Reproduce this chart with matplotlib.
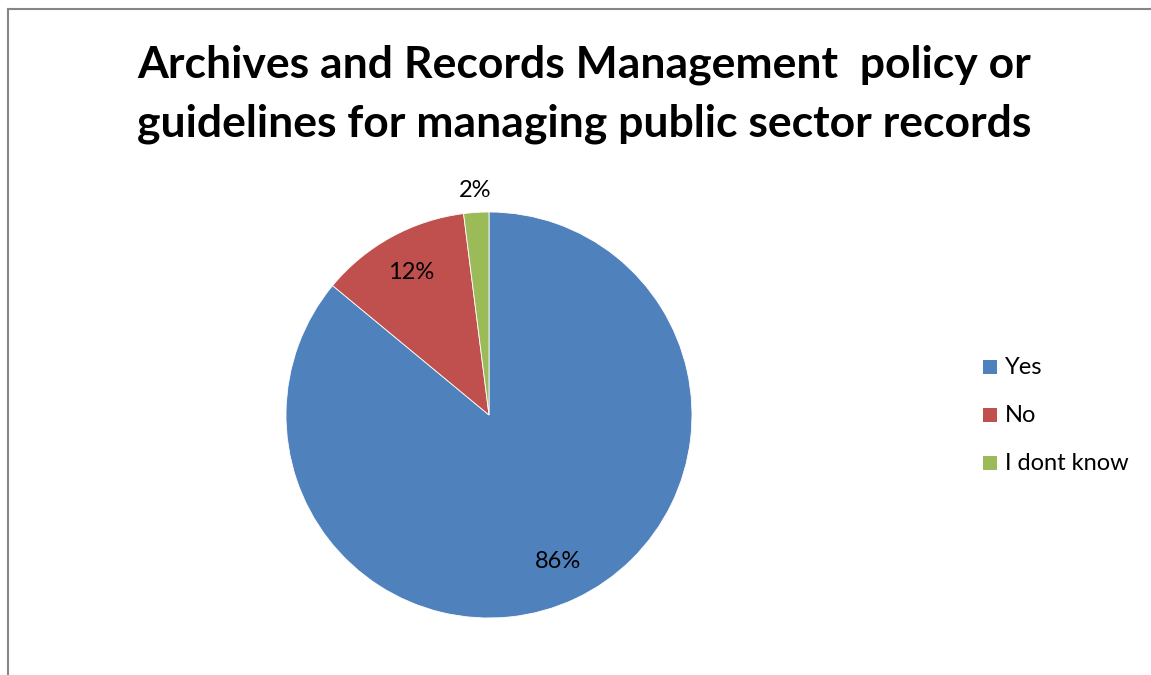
import matplotlib
matplotlib.use("Agg")
import matplotlib.pyplot as plt
from matplotlib.lines import Line2D
from matplotlib.patches import Rectangle
import numpy as np

categories = ["Yes", "No", "I dont know"]
values = [86, 12, 2]
colors = ["#4F81BD", "#C0504D", "#9BBB59"]
title = "Archives and Records Management  policy or\nguidelines for managing public sector records"

W, H = 1151, 675
fig = plt.figure(figsize=(W / 100, H / 100), dpi=100)
fig.patch.set_facecolor("white")

# frame lines (left and top)
fig.add_artist(Line2D([8 / W, 8 / W], [0, 1 - 9 / H], color="#868686", lw=1.5))
fig.add_artist(Line2D([8 / W, 1], [1 - 9 / H, 1 - 9 / H], color="#868686", lw=1.5))

cx, cy, r = 489, 415, 203
ax = fig.add_axes([(cx - r) / W, (H - cy - r) / H, 2 * r / W, 2 * r / H])
wedges, texts, autotexts = ax.pie(
    values, colors=colors, startangle=90, counterclock=False,
    autopct="%1.0f%%", pctdistance=0.8, radius=1,
    wedgeprops=dict(edgecolor="white", linewidth=0.6),
    textprops=dict(fontsize=17, family="Lato", color="black"))
# small slice label outside
theta = np.deg2rad((wedges[2].theta1 + wedges[2].theta2) / 2)
autotexts[2].set_position((1.11 * np.cos(theta), 1.11 * np.sin(theta)))
ax.set_xlim(-1, 1)
ax.set_ylim(-1, 1)
ax.set_aspect("auto")
ax.axis("off")

fig.text(584 / W, 1 - 94 / H, title, ha="center", va="center",
         fontsize=32, fontweight="bold", family="Lato", linespacing=1.55)

# legend
for i, (c, lab) in enumerate(zip(colors, categories)):
    y = 367 + 48 * i
    fig.add_artist(Rectangle((983 / W, 1 - (y + 7) / H), 14 / W, 14 / H,
                             facecolor=c, edgecolor="none"))
    fig.text(1005 / W, 1 - y / H, lab, ha="left", va="center",
             fontsize=17, family="Lato")

fig.savefig("out.png", dpi=100)
